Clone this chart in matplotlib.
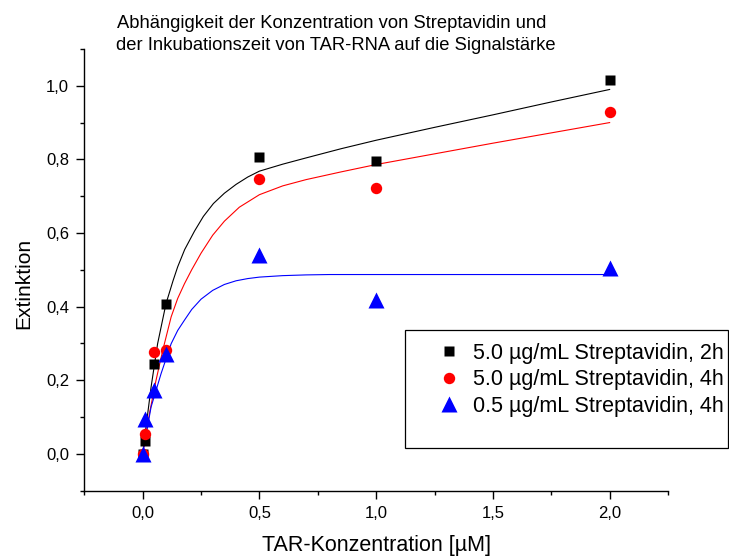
import matplotlib
matplotlib.use("Agg")
import matplotlib.pyplot as plt
from matplotlib.ticker import MultipleLocator, FuncFormatter
from matplotlib.patches import Rectangle

plt.rcParams['font.family'] = ['Liberation Sans', 'DejaVu Sans']

# Messwerte (TAR-Konzentration in µM, Extinktion)
conc = [0.0, 0.01, 0.05, 0.1, 0.5, 1.0, 2.0]
ext_50_2h = [0.0, 0.034, 0.245, 0.408, 0.806, 0.796, 1.017]
ext_50_4h = [0.0, 0.054, 0.276, 0.281, 0.747, 0.723, 0.928]
ext_05_4h = [0.0, 0.095, 0.172, 0.270, 0.540, 0.417, 0.505]

# Fit-Kurven
fit_50_2h_x = [0.0, 0.007, 0.036, 0.064, 0.1, 0.13, 0.15, 0.18, 0.222, 0.26, 0.303, 0.35,
               0.4, 0.45, 0.5, 0.6, 0.7, 0.85, 1.0, 1.25, 1.5, 1.75, 2.0]
fit_50_2h_y = [0.0, 0.036, 0.181, 0.299, 0.408, 0.470, 0.508, 0.555, 0.605, 0.645, 0.680, 0.708,
               0.732, 0.752, 0.768, 0.787, 0.804, 0.829, 0.852, 0.887, 0.921, 0.956, 0.990]
fit_50_4h_x = [0.0, 0.029, 0.057, 0.086, 0.122, 0.15, 0.179, 0.21, 0.25, 0.3, 0.35, 0.414,
               0.5, 0.6, 0.7, 0.85, 1.0, 1.25, 1.5, 1.75, 2.0]
fit_50_4h_y = [0.0, 0.109, 0.199, 0.281, 0.372, 0.422, 0.462, 0.500, 0.545, 0.594, 0.632, 0.670,
               0.704, 0.728, 0.745, 0.766, 0.786, 0.815, 0.844, 0.872, 0.900]
fit_05_4h_x = [0.0, 0.036, 0.079, 0.122, 0.15, 0.179, 0.21, 0.25, 0.3, 0.35, 0.4, 0.45,
               0.5, 0.6, 0.7, 0.8, 1.0, 1.5, 2.0]
fit_05_4h_y = [0.0, 0.127, 0.218, 0.299, 0.335, 0.363, 0.392, 0.420, 0.444, 0.460, 0.470, 0.476,
               0.480, 0.484, 0.486, 0.487, 0.487, 0.487, 0.487]

labels = ["5.0 µg/mL Streptavidin, 2h",
          "5.0 µg/mL Streptavidin, 4h",
          "0.5 µg/mL Streptavidin, 4h"]

W, H = 729, 558
fig = plt.figure(figsize=(W / 100, H / 100), dpi=100)
ax = fig.add_axes([84.3 / W, 1 - 490.5 / H, (668 - 84.3) / W, (490.5 - 49) / H])

ax.plot(fit_50_2h_x, fit_50_2h_y, color='black', lw=0.8)
ax.plot(fit_50_4h_x, fit_50_4h_y, color='red', lw=0.8)
ax.plot(fit_05_4h_x, fit_05_4h_y, color='blue', lw=0.8)

ax.plot(conc, ext_50_2h, 's', color='black', ms=6.7, mec='none', label=labels[0])
ax.plot(conc, ext_50_4h, 'o', color='red', ms=8.2, mec='none', label=labels[1])
ax.plot(conc, ext_05_4h, '^', color='blue', ms=11, mec='none', label=labels[2])

ax.set_xlim(-0.25, 2.25)
ax.set_ylim(-0.1, 1.1)
ax.xaxis.set_major_locator(MultipleLocator(0.5))
ax.xaxis.set_minor_locator(MultipleLocator(0.25))
ax.yaxis.set_major_locator(MultipleLocator(0.2))
ax.yaxis.set_minor_locator(MultipleLocator(0.1))
komma = FuncFormatter(lambda v, p: ("%.1f" % v).replace('.', ','))
ax.xaxis.set_major_formatter(komma)
ax.yaxis.set_major_formatter(komma)

for s in ['top', 'right']:
    ax.spines[s].set_visible(False)
for s in ['left', 'bottom']:
    ax.spines[s].set_linewidth(1.0)
ax.tick_params(which='major', direction='out', length=6, width=1.0, labelsize=12, pad=5)
ax.tick_params(which='minor', direction='out', length=3, width=1.0)

# Achsenbeschriftungen und Titel
fig.text(23.5 / W, 1 - 283 / H, "Extinktion", rotation=90, ha='center', va='center', fontsize=15)
fig.text(377 / W, 1 - 545 / H, "TAR-Konzentration [µM]", ha='center', va='center', fontsize=15.5)
fig.text(117 / W, 1 - 28.5 / H, "Abhängigkeit der Konzentration von Streptavidin und",
         ha='left', va='baseline', fontsize=13.2)
fig.text(116 / W, 1 - 50 / H, "der Inkubationszeit von TAR-RNA auf die Signalstärke",
         ha='left', va='baseline', fontsize=13.2)

# Legende mit Rahmen
fig.patches.append(Rectangle((405 / W, 1 - 448 / H), 323 / W, 118 / H, transform=fig.transFigure,
                             fill=False, edgecolor='black', lw=0.9))
ax.legend(loc='upper left', bbox_to_anchor=(438 / W, 1 - 343 / H), bbox_transform=fig.transFigure,
          frameon=False, fontsize=15.5, handlelength=1.0, handletextpad=0.62,
          labelspacing=0.25, borderpad=0, borderaxespad=0)

fig.savefig("out.png", dpi=100)
